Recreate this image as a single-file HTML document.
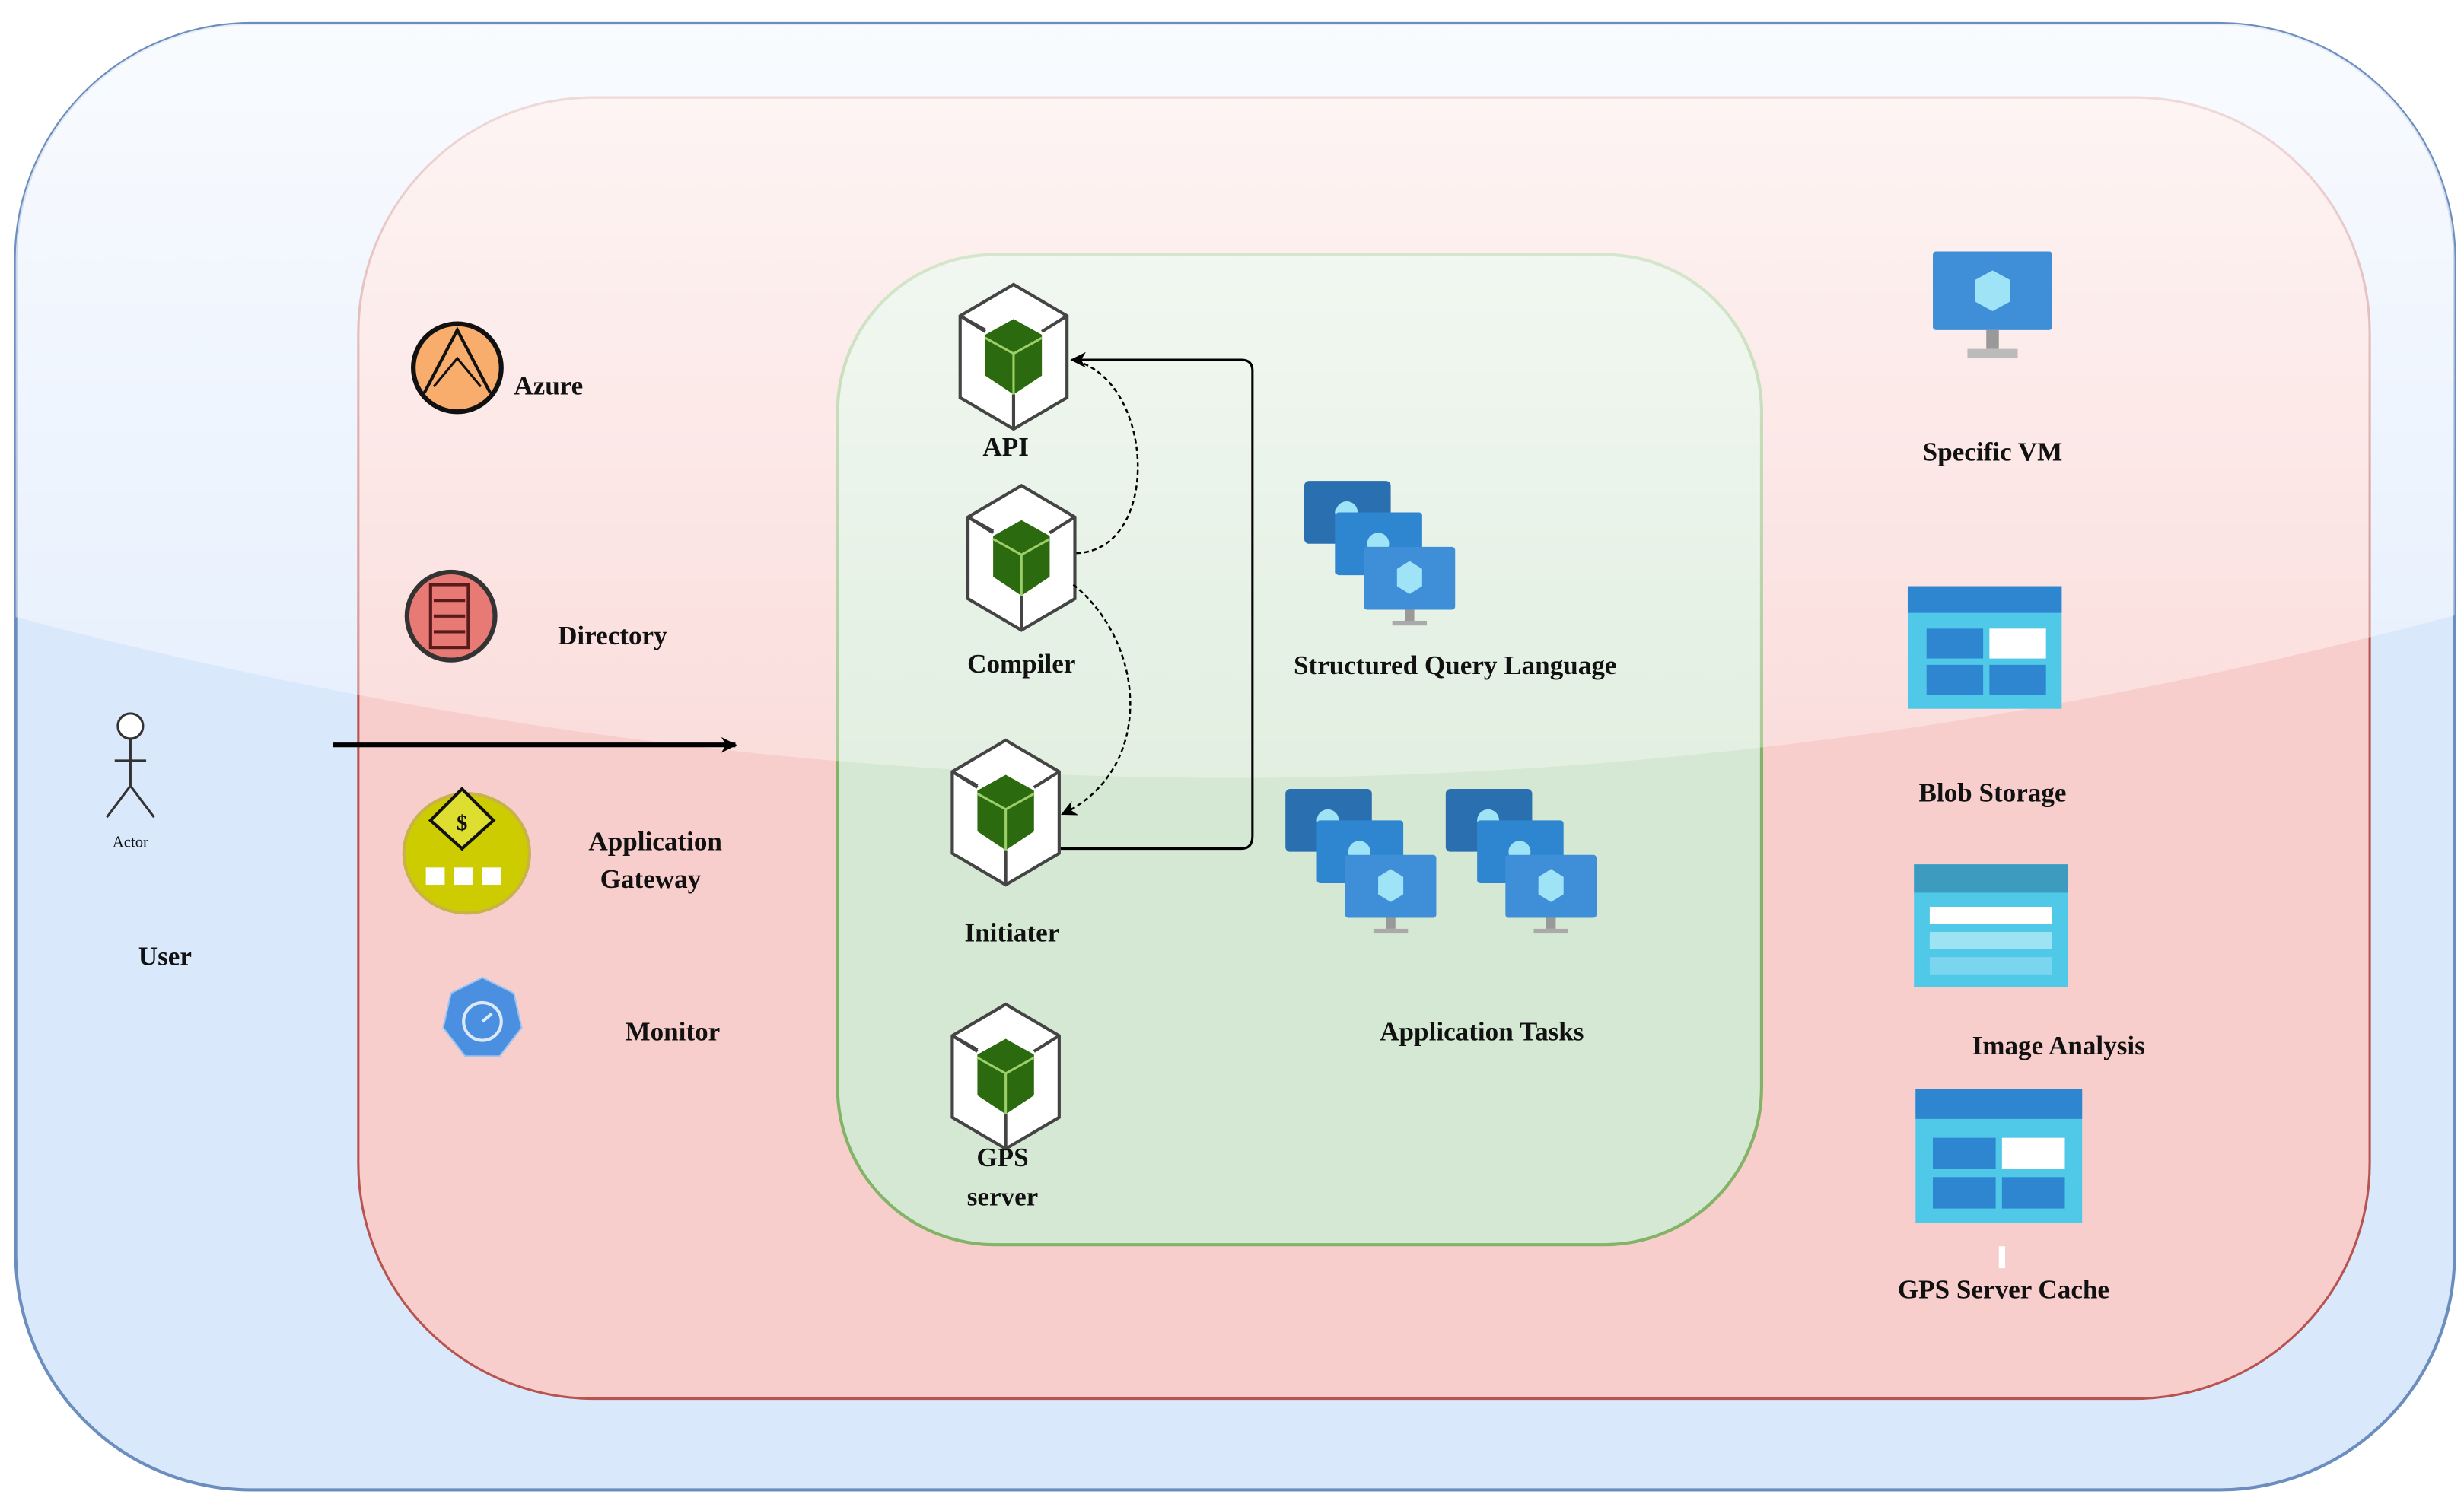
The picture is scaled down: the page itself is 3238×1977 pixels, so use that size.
<!DOCTYPE html>
<html><head><meta charset="utf-8"><style>
html,body{margin:0;padding:0;background:#fff;}
svg{display:block;}
text{font-family:"Liberation Serif",serif;font-weight:bold;fill:#111;}
</style></head><body>
<svg width="3238" height="1977" viewBox="0 0 1568 957" preserveAspectRatio="none" xmlns="http://www.w3.org/2000/svg">
<defs>
<linearGradient id="gl" x1="0" y1="0" x2="0" y2="1">
<stop offset="0" stop-color="#fff" stop-opacity="0.85"/>
<stop offset="1" stop-color="#fff" stop-opacity="0.3"/>
</linearGradient>
<clipPath id="co"><rect x="10" y="15" width="1552" height="933" rx="150"/></clipPath>
<g id="cube">
<polygon points="0,-46 34,-26 34,26 0,46 -34,26 -34,-26" fill="#fff" stroke="#444" stroke-width="2"/>
<polyline points="-34,-26 -18,-17 M0,0" fill="none" stroke="#444" stroke-width="2"/>
<line x1="-34" y1="-26" x2="-18" y2="-16" stroke="#444" stroke-width="2"/>
<line x1="34" y1="-26" x2="18" y2="-16" stroke="#444" stroke-width="2"/>
<line x1="0" y1="46" x2="0" y2="24" stroke="#444" stroke-width="2"/>
<polygon points="0,-24 18,-14 18,12 0,24 -18,12 -18,-14" fill="#2b6a0e"/>
<polyline points="-18,-12 0,-2 18,-12 M0,-2" fill="none" stroke="#9ccf6a" stroke-width="1.5"/>
<line x1="0" y1="-2" x2="0" y2="24" stroke="#9ccf6a" stroke-width="1.5"/>
</g>
<g id="mon">
<rect x="0" y="0" width="58" height="40" rx="2" fill="#3f8fd8"/>
<polygon points="29,9 37,14 37,25 29,30 21,25 21,14" fill="#9fe3f6"/>
<rect x="26" y="40" width="6" height="7" fill="#999"/>
<rect x="18" y="47" width="22" height="3" fill="#aaa"/>
</g>
<g id="stack">
<rect x="0" y="0" width="55" height="40" rx="3" fill="#2a6fb0"/>
<circle cx="27" cy="20" r="7" fill="#9fe3f6"/>
<rect x="20" y="20" width="55" height="40" rx="2" fill="#2f86d0"/>
<circle cx="47" cy="40" r="7" fill="#9fe3f6"/>
<use href="#mon" x="38" y="42"/>
</g>
<marker id="ah" markerWidth="10" markerHeight="10" refX="9" refY="5" orient="auto" markerUnits="userSpaceOnUse"><path d="M0,0 L10,5 L0,10 L3,5z" fill="#000"/></marker>
</defs>
<rect x="10" y="15" width="1552" height="933" rx="150" fill="#dae8fc" stroke="#6c8ebf" stroke-width="2"/>
<rect x="228" y="62" width="1280" height="828" rx="150" fill="#f8cecc" stroke="#b85450" stroke-width="1.5"/>
<rect x="533" y="162" width="588" height="630" rx="100" fill="#d5e8d4" stroke="#82b366" stroke-width="2"/>
<path d="M0,0 H1568 V390 Q784,600 0,390 Z" fill="url(#gl)" clip-path="url(#co)"/>

<!-- actor -->
<circle cx="83" cy="462" r="8" fill="#fff" stroke="#333" stroke-width="1.5"/>
<line x1="83" y1="470" x2="83" y2="500" stroke="#333" stroke-width="1.5"/>
<line x1="73" y1="484" x2="93" y2="484" stroke="#333" stroke-width="1.5"/>
<line x1="83" y1="500" x2="68" y2="520" stroke="#333" stroke-width="1.5"/>
<line x1="83" y1="500" x2="98" y2="520" stroke="#333" stroke-width="1.5"/>
<text x="83" y="539" font-size="10" font-weight="normal" text-anchor="middle" style="font-weight:normal">Actor</text>
<text x="105" y="614" font-size="17" text-anchor="middle">User</text>
<line x1="212" y1="474" x2="468" y2="474" stroke="#000" stroke-width="3" marker-end="url(#ah)"/>

<!-- left icons -->
<circle cx="291" cy="234" r="28" fill="#f8ad6d" stroke="#111" stroke-width="3"/>
<polyline points="270,250 291,210 312,250" fill="none" stroke="#111" stroke-width="2"/>
<polyline points="276,246 291,228 306,246" fill="none" stroke="#111" stroke-width="1.5"/>
<text x="327" y="251" font-size="17">Azure</text>
<ellipse cx="287" cy="392" rx="28" ry="28" fill="#e77a75" stroke="#333" stroke-width="3"/>
<rect x="274" y="372" width="24" height="40" fill="#e77a75" stroke="#5a1a1a" stroke-width="2"/>
<line x1="276" y1="382" x2="296" y2="382" stroke="#5a1a1a" stroke-width="2"/>
<line x1="276" y1="392" x2="296" y2="392" stroke="#5a1a1a" stroke-width="2"/>
<line x1="276" y1="402" x2="296" y2="402" stroke="#5a1a1a" stroke-width="2"/>
<text x="355" y="410" font-size="17">Directory</text>
<ellipse cx="297" cy="543" rx="40" ry="38" fill="#cccc00" stroke="#c9b24a" stroke-width="2"/>
<polygon points="294,502 314,522 294,540 274,522" fill="#dede30" stroke="#111" stroke-width="2"/>
<text x="294" y="528" font-size="14" text-anchor="middle">$</text>
<rect x="271" y="552" width="12" height="11" fill="#fff"/><rect x="289" y="552" width="12" height="11" fill="#fff"/><rect x="307" y="552" width="12" height="11" fill="#fff"/>
<text x="417" y="541" font-size="17" text-anchor="middle">Application</text>
<text x="414" y="565" font-size="17" text-anchor="middle">Gateway</text>
<polygon points="307,622 327,632 332,654 318,672 296,672 282,654 287,632" fill="#4a8fe0" stroke="#9cc4f0" stroke-width="1"/>
<circle cx="307" cy="650" r="12" fill="none" stroke="#dbe9fb" stroke-width="2"/>
<line x1="307" y1="650" x2="313" y2="645" stroke="#dbe9fb" stroke-width="2"/>
<text x="428" y="662" font-size="17" text-anchor="middle">Monitor</text>

<!-- cubes -->
<use href="#cube" x="645" y="227"/>
<text x="640" y="290" font-size="17" text-anchor="middle">API</text>
<use href="#cube" x="650" y="355"/>
<text x="650" y="428" font-size="17" text-anchor="middle">Compiler</text>
<use href="#cube" x="640" y="517"/>
<text x="644" y="599" font-size="17" text-anchor="middle">Initiater</text>
<use href="#cube" x="640" y="685"/>
<text x="638" y="742" font-size="17" text-anchor="middle">GPS</text>
<text x="638" y="767" font-size="17" text-anchor="middle">server</text>

<!-- connectors -->
<path d="M675,540 H790 Q797,540 797,532 V236 Q797,229 790,229 H682" fill="none" stroke="#000" stroke-width="1.5" marker-end="url(#ah)"/>
<path d="M685,352 C740,350 735,240 682,229" fill="none" stroke="#000" stroke-width="1.2" stroke-dasharray="3,2"/>
<path d="M683,372 C730,410 735,490 676,518" fill="none" stroke="#000" stroke-width="1.2" stroke-dasharray="3,2" marker-end="url(#ah)"/>

<!-- VM stacks -->
<use href="#stack" x="830" y="306"/>
<text x="926" y="429" font-size="17" text-anchor="middle">Structured Query Language</text>
<use href="#stack" x="818" y="502"/>
<use href="#stack" x="920" y="502"/>
<text x="943" y="662" font-size="17" text-anchor="middle">Application Tasks</text>

<!-- right -->
<rect x="1230" y="160" width="76" height="50" rx="2" fill="#3f8fd8"/>
<polygon points="1268,172 1279,178 1279,192 1268,198 1257,192 1257,178" fill="#9fe3f6"/>
<rect x="1264" y="210" width="8" height="12" fill="#999"/><rect x="1252" y="222" width="32" height="6" fill="#bbb"/>
<text x="1268" y="293" font-size="17" text-anchor="middle">Specific VM</text>
<rect x="1214" y="373" width="98" height="78" fill="#50c8e8"/>
<rect x="1214" y="373" width="98" height="17" fill="#2f86d0"/>
<rect x="1226" y="400" width="36" height="19" fill="#2f86d0"/><rect x="1266" y="400" width="36" height="19" fill="#fff"/>
<rect x="1226" y="423" width="36" height="19" fill="#2f86d0"/><rect x="1266" y="423" width="36" height="19" fill="#2f86d0"/>
<text x="1268" y="510" font-size="17" text-anchor="middle">Blob Storage</text>
<rect x="1218" y="550" width="98" height="78" fill="#50c8e8"/>
<rect x="1218" y="550" width="98" height="18" fill="#3d9bc0"/>
<rect x="1228" y="577" width="78" height="11" fill="#fff"/>
<rect x="1228" y="593" width="78" height="11" fill="#9ee3f3"/>
<rect x="1228" y="609" width="78" height="11" fill="#7ad6ef"/>
<text x="1310" y="671" font-size="17" text-anchor="middle">Image Analysis</text>
<rect x="1219" y="693" width="106" height="85" fill="#50c8e8"/>
<rect x="1219" y="693" width="106" height="19" fill="#2f86d0"/>
<rect x="1230" y="724" width="40" height="20" fill="#2f86d0"/><rect x="1274" y="724" width="40" height="20" fill="#fff"/>
<rect x="1230" y="749" width="40" height="20" fill="#2f86d0"/><rect x="1274" y="749" width="40" height="20" fill="#2f86d0"/>
<rect x="1272" y="793" width="4" height="14" fill="#fff"/>
<text x="1275" y="826" font-size="17" text-anchor="middle">GPS Server Cache</text>
</svg>
</body></html>
